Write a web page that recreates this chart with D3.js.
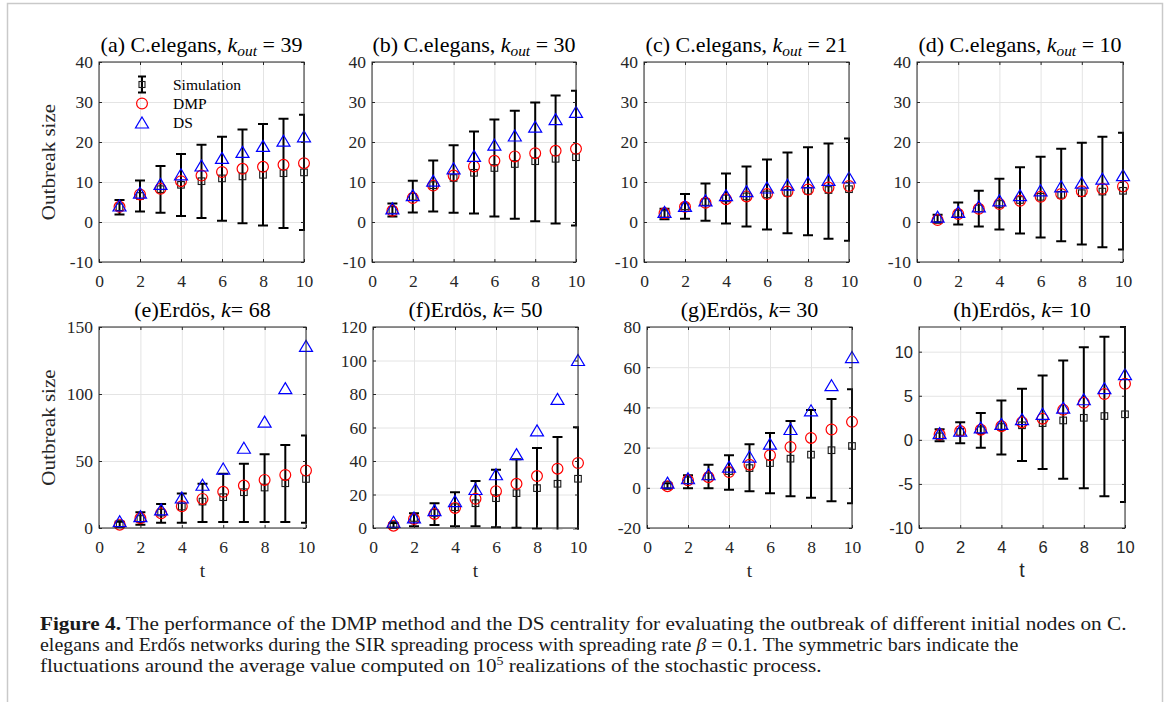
<!DOCTYPE html>
<html><head><meta charset="utf-8">
<script src="https://cdn.jsdelivr.net/npm/d3@7"></script>
<style>body{margin:0;background:#fff;} svg{display:block}</style>
</head><body>
<svg id="c" width="1170" height="702"></svg>
<script>
// ---------------- data ----------------
const tVals = [1,2,3,4,5,6,7,8,9,10];
const xTicks = [0,2,4,6,8,10];
const yTicksCel = [-10,0,10,20,30,40];
const yTicksE = [0,50,100,150];
const yTicksF = [0,20,40,60,80,100,120];
const yTicksG = [-20,0,20,40,60,80];
const yTicksH = [-10,-5,0,5,10];

// (a) C.elegans k_out = 39
const simA = [3.7, 6.5, 8.2, 9.3, 10.2, 10.9, 11.4, 11.8, 12.2, 12.4];
const loA  = [1.9, 2.6, 2.3, 1.5, 1.0, 0.3, -0.3, -0.9, -1.5, -2.0];
const hiA  = [5.5, 10.4, 14.0, 17.0, 19.3, 21.3, 23.1, 24.5, 25.8, 26.8];
const dmpA = [3.8, 6.9, 8.3, 10.2, 11.6, 12.5, 13.3, 13.8, 14.3, 14.7];
const dsA  = [4.0, 7.2, 9.4, 11.8, 14.0, 15.9, 17.4, 18.9, 20.2, 21.3];
// (b) C.elegans k_out = 30
const simB = [3.0, 6.3, 9.2, 11.0, 12.3, 13.5, 14.5, 15.2, 15.8, 16.2];
const loB  = [1.4, 2.4, 2.6, 2.3, 2.1, 1.4, 0.8, 0.2, -0.4, -0.9];
const hiB  = [4.6, 10.3, 15.4, 19.2, 22.6, 25.6, 27.8, 29.9, 31.6, 32.8];
const dmpB = [2.8, 6.0, 9.1, 11.6, 13.9, 15.3, 16.4, 17.2, 17.8, 18.3];
const dsB  = [3.3, 6.6, 10.2, 13.3, 16.4, 19.2, 21.5, 23.7, 25.6, 27.4];
// (c) C.elegans k_out = 21
const simC = [2.0, 3.9, 5.0, 5.9, 6.4, 6.9, 7.3, 7.8, 8.0, 8.2];
const loC  = [0.7, 0.8, 0.3, -0.4, -1.1, -1.9, -2.8, -3.3, -4.2, -4.7];
const hiC  = [3.3, 7.0, 9.6, 12.1, 13.9, 15.6, 17.4, 18.7, 19.6, 20.9];
const dmpC = [2.2, 3.8, 4.8, 5.7, 6.4, 7.0, 7.6, 8.1, 8.6, 9.0];
const dsC  = [2.4, 3.9, 5.3, 6.6, 7.6, 8.5, 9.2, 9.8, 10.4, 11.0];
// (d) C.elegans k_out = 10
const simD = [0.9, 2.1, 3.4, 4.5, 5.5, 6.3, 6.8, 7.2, 7.6, 7.8];
const loD  = [-0.2, -0.6, -1.1, -1.9, -2.9, -3.9, -4.8, -5.6, -6.3, -6.9];
const hiD  = [1.8, 4.9, 7.8, 10.8, 13.7, 16.3, 18.3, 19.8, 21.3, 22.3];
const dmpD = [0.5, 2.0, 3.3, 4.5, 5.3, 6.3, 7.0, 7.7, 8.3, 8.9];
const dsD  = [1.2, 2.4, 3.8, 5.3, 6.6, 7.8, 8.8, 9.7, 10.7, 11.6];
// (e) Erdos k = 68
const simE = [3.0, 6.7, 11.5, 16.0, 19.7, 23.0, 26.7, 30.2, 33.4, 36.6];
const loE  = [0.8, 2.5, 4.0, 4.0, 4.5, 4.5, 4.5, 4.5, 4.5, 4.0];
const hiE  = [4.7, 11.7, 18.0, 25.7, 33.0, 40.5, 48.0, 55.0, 62.0, 69.0];
const dmpE = [2.5, 7.2, 11.0, 16.2, 21.7, 27.0, 31.7, 35.9, 39.6, 42.9];
const dsE  = [4.7, 8.5, 13.5, 22.4, 31.9, 44.0, 59.5, 79.0, 104.0, 135.5];
// (f) Erdos k = 50
const simF = [1.8, 6.0, 9.0, 12.4, 14.8, 17.8, 20.8, 23.8, 26.4, 29.4];
const loF  = [0.1, 1.0, 1.8, 1.0, 1.0, 0.4, 0.1, -0.4, -1.6, -1.4];
const hiF  = [3.0, 8.8, 14.8, 21.4, 28.0, 34.8, 41.0, 47.8, 54.4, 60.2];
const dmpF = [1.4, 5.4, 8.4, 12.0, 17.4, 22.0, 26.4, 31.0, 35.4, 38.8];
const dsF  = [3.4, 6.0, 10.4, 15.8, 23.0, 31.8, 43.8, 58.0, 76.8, 100.0];
// (g) Erdos k = 30
const simG = [1.5, 3.7, 5.7, 8.3, 9.8, 12.3, 14.5, 16.5, 18.7, 20.8];
const loG  = [-0.5, -0.2, -0.2, -1.0, -1.7, -2.7, -4.2, -5.0, -6.7, -7.7];
const hiG  = [2.3, 6.2, 11.5, 16.2, 21.7, 27.3, 33.2, 38.7, 44.2, 49.0];
const dmpG = [0.8, 3.7, 5.3, 7.8, 11.5, 16.2, 20.3, 24.8, 29.0, 32.8];
const dsG  = [2.3, 4.5, 6.5, 10.3, 15.3, 21.7, 29.0, 38.3, 50.8, 64.8];
// (h) Erdos k = 10
const simH = [0.4, 0.9, 1.1, 1.45, 1.65, 1.9, 2.2, 2.5, 2.7, 2.9];
const loH  = [-0.15, -0.4, -0.9, -1.65, -2.4, -3.3, -4.4, -5.5, -6.4, -7.05];
const hiH  = [1.2, 2.0, 3.05, 4.45, 5.8, 7.3, 9.0, 10.5, 11.7, 12.8];
const dmpH = [0.6, 1.0, 1.15, 1.55, 2.0, 2.4, 3.4, 4.2, 5.2, 6.35];
const dsH  = [0.7, 1.0, 1.35, 1.75, 2.3, 2.9, 3.6, 4.55, 5.8, 7.4];

const legendLabels = ["Simulation", "DMP", "DS"];

// ---------------- layout ----------------
const SERIF = "'Liberation Serif','Times New Roman',serif";
const SANS = "'Liberation Sans',Arial,Helvetica,sans-serif";
const TXT = "#262626";
const fmt = d => String(d);   // plain hyphen minus, like the original

const panels = [
  {letter:"(a) C.elegans, ", kind:"cel", val:"39", L:99,  R:304,  T:62,  B:262, ydom:[-10,40], yt:yTicksCel, sim:simA, lo:loA, hi:hiA, dmp:dmpA, ds:dsA, ylab:true, legend:true},
  {letter:"(b) C.elegans, ", kind:"cel", val:"30", L:372, R:576,  T:62,  B:262, ydom:[-10,40], yt:yTicksCel, sim:simB, lo:loB, hi:hiB, dmp:dmpB, ds:dsB},
  {letter:"(c) C.elegans, ", kind:"cel", val:"21", L:644, R:849,  T:62,  B:262, ydom:[-10,40], yt:yTicksCel, sim:simC, lo:loC, hi:hiC, dmp:dmpC, ds:dsC},
  {letter:"(d) C.elegans, ", kind:"cel", val:"10", L:917, R:1123, T:62,  B:262, ydom:[-10,40], yt:yTicksCel, sim:simD, lo:loD, hi:hiD, dmp:dmpD, ds:dsD},
  {letter:"(e)Erdös, ", kind:"er", val:"68", L:99,  R:306,  T:327, B:528, ydom:[0,150], yt:yTicksE, sim:simE, lo:loE, hi:hiE, dmp:dmpE, ds:dsE, ylab:true, xlab:true},
  {letter:"(f)Erdös, ", kind:"er", val:"50", L:373, R:578,  T:327, B:528, ydom:[0,120], yt:yTicksF, sim:simF, lo:loF, hi:hiF, dmp:dmpF, ds:dsF, xlab:true},
  {letter:"(g)Erdös, ", kind:"er", val:"30", L:647, R:852,  T:327, B:528, ydom:[-20,80], yt:yTicksG, sim:simG, lo:loG, hi:hiG, dmp:dmpG, ds:dsG, xlab:true},
  {letter:"(h)Erdös, ", kind:"er", val:"10", L:919, R:1125, T:327, B:528, ydom:[-10,12.8], yt:yTicksH, sim:simH, lo:loH, hi:hiH, dmp:dmpH, ds:dsH, xlab:true, sans:true}
];

const svg = d3.select("#c");
svg.append("rect").attr("width",1170).attr("height",702).attr("fill","#fff");
// page frame
svg.append("path").attr("d","M7.5,702 V3.5 H1162.5 V702").attr("fill","none").attr("stroke","#c9c9c9").attr("stroke-width",1.5);

const defs = svg.append("defs");
const triPath = "M0,-6 L6.5,5 L-6.5,5 Z";

panels.forEach((p, idx) => {
  const g = svg.append("g");
  const x = d3.scaleLinear().domain([0,10]).range([p.L, p.R]);
  const y = d3.scaleLinear().domain(p.ydom).range([p.B, p.T]);
  const tickFont = p.sans ? SANS : SERIF;
  const W = p.R - p.L, H = p.B - p.T;

  // grid
  const gx = g.append("g").attr("transform",`translate(0,${p.B})`)
    .call(d3.axisBottom(x).tickValues(xTicks).tickSize(-H).tickFormat(""));
  const gy = g.append("g").attr("transform",`translate(${p.L},0)`)
    .call(d3.axisLeft(y).tickValues(p.yt).tickSize(-W).tickFormat(""));
  [gx, gy].forEach(a => {
    a.select(".domain").remove();
    a.selectAll("line").attr("stroke","#e4e4e4").attr("stroke-width",1);
  });

  // clip
  const cid = "clip" + idx;
  defs.append("clipPath").attr("id",cid).append("rect")
    .attr("x",p.L-1).attr("y",p.T-1.5).attr("width",W+2).attr("height",H+3);
  const dg = g.append("g").attr("clip-path",`url(#${cid})`);

  // error bars
  tVals.forEach((t,i) => {
    const cx = x(t), y1 = y(p.lo[i]), y2 = y(p.hi[i]);
    dg.append("line").attr("x1",cx).attr("x2",cx).attr("y1",y1).attr("y2",y2)
      .attr("stroke","#000").attr("stroke-width",2);
    [y1,y2].forEach(yy => dg.append("line").attr("x1",cx-5).attr("x2",cx+5).attr("y1",yy).attr("y2",yy)
      .attr("stroke","#000").attr("stroke-width",2));
  });
  // squares
  g.selectAll(".sq").data(tVals).join("rect")
    .attr("x",(t,i)=>x(t)-3.3).attr("y",(t,i)=>y(p.sim[i])-3.3)
    .attr("width",6.6).attr("height",6.6)
    .attr("fill","none").attr("stroke","#1a1a1a").attr("stroke-width",1.1);
  // DMP circles
  g.selectAll(".ci").data(tVals).join("circle")
    .attr("cx",t=>x(t)).attr("cy",(t,i)=>y(p.dmp[i])).attr("r",5.4)
    .attr("fill","none").attr("stroke","#ff0000").attr("stroke-width",1.2);
  // DS triangles
  g.selectAll(".tr").data(tVals).join("path")
    .attr("d",triPath).attr("transform",(t,i)=>`translate(${x(t)},${y(p.ds[i])})`)
    .attr("fill","none").attr("stroke","#0000ff").attr("stroke-width",1.2);

  // box
  g.append("rect").attr("x",p.L).attr("y",p.T).attr("width",W).attr("height",H)
    .attr("fill","none").attr("stroke",TXT).attr("stroke-width",1);

  // axes with inward ticks
  const ab = g.append("g").attr("transform",`translate(0,${p.B})`)
    .call(d3.axisBottom(x).tickValues(xTicks).tickSize(-3).tickPadding(0).tickFormat(fmt));
  ab.selectAll("text").attr("y", 25).attr("dy", null);
  const al = g.append("g").attr("transform",`translate(${p.L},0)`)
    .call(d3.axisLeft(y).tickValues(p.yt).tickSize(-3).tickPadding(6).tickFormat(fmt));
  const at = g.append("g").attr("transform",`translate(0,${p.T})`)
    .call(d3.axisTop(x).tickValues(xTicks).tickSize(-3).tickFormat(""));
  const ar = g.append("g").attr("transform",`translate(${p.R},0)`)
    .call(d3.axisRight(y).tickValues(p.yt).tickSize(-3).tickFormat(""));
  [ab,al,at,ar].forEach(a => {
    a.select(".domain").remove();
    a.selectAll("line").attr("stroke",TXT).attr("stroke-width",1);
    a.selectAll("text").attr("fill",TXT).style("font-family",tickFont).style("font-size", p.sans ? "16.5px" : "17.5px");
  });
  al.selectAll("text").attr("dy","0.34em");

  // title
  const cxT = (p.L+p.R)/2;
  const tt = g.append("text").attr("x",cxT).attr("y",p.T-10)
    .attr("text-anchor","middle").style("font-family",SERIF).style("font-size","20px").attr("fill","#000")
    .attr("transform",`translate(${cxT},0) scale(1.1,1) translate(${-cxT},0)`);
  tt.append("tspan").text(p.letter);
  tt.append("tspan").style("font-style","italic").text("k");
  if (p.kind === "cel") {
    tt.append("tspan").style("font-style","italic").style("font-size","14px").attr("dy",4).text("out");
    tt.append("tspan").attr("dy",-4).text(" = " + p.val);
  } else {
    tt.append("tspan").text("= " + p.val);
  }

  if (p.ylab) {
    g.append("text").attr("transform",`translate(48,${(p.T+p.B)/2}) rotate(-90) scale(1.08,1)`)
      .attr("text-anchor","middle").attr("dy","0.35em")
      .style("font-family",SERIF).style("font-size","19.5px").attr("fill",TXT).text("Outbreak size");
  }
  if (p.xlab) {
    g.append("text").attr("x",(p.L+p.R)/2).attr("y",p.B+49).attr("text-anchor","middle")
      .style("font-family", p.sans ? SANS : SERIF).style("font-size","19.5px").attr("fill",TXT).text("t");
  }

  if (p.legend) {
    const lx = 142, tx = 173, ly = [84.5, 103.5, 123];
    const lg = g.append("g");
    lg.append("line").attr("x1",lx).attr("x2",lx).attr("y1",ly[0]-8).attr("y2",ly[0]+8).attr("stroke","#000").attr("stroke-width",2);
    [ly[0]-8, ly[0]+8].forEach(yy => lg.append("line").attr("x1",lx-4).attr("x2",lx+4).attr("y1",yy).attr("y2",yy).attr("stroke","#000").attr("stroke-width",2));
    lg.append("rect").attr("x",lx-3).attr("y",ly[0]-3).attr("width",6).attr("height",6).attr("fill","none").attr("stroke","#1a1a1a").attr("stroke-width",1.1);
    lg.append("circle").attr("cx",lx).attr("cy",ly[1]).attr("r",5.4).attr("fill","none").attr("stroke","#ff0000").attr("stroke-width",1.2);
    lg.append("path").attr("d",triPath).attr("transform",`translate(${lx},${ly[2]})`).attr("fill","none").attr("stroke","#0000ff").attr("stroke-width",1.2);
    legendLabels.forEach((s,i) => lg.append("text").attr("x",tx).attr("y",ly[i]).attr("dy","0.35em")
      .style("font-family",SERIF).style("font-size","15.5px").attr("fill","#000").text(s));
  }
});

// ---------------- caption ----------------
const capLines = [
  {y:630, end:1127, parts:[{t:"Figure 4.", b:true},{t:" The performance of the DMP method and the DS centrality for evaluating the outbreak of different initial nodes on C."}]},
  {y:651, end:1019, parts:[{t:"elegans and Erdős networks during the SIR spreading process with spreading rate "},{t:"β", i:true},{t:" = 0.1. The symmetric bars indicate the"}]},
  {y:672, end:822, parts:[{t:"fluctuations around the average value computed on 10"},{t:"5", sup:true},{t:" realizations of the stochastic process."}]}
];
capLines.forEach(line => {
  const txt = svg.append("text").attr("x",40).attr("y",line.y)
    .style("font-family",SERIF).style("font-size","18px").attr("fill","#1a1a1a");
  let afterSup = false;
  line.parts.forEach(pt => {
    const s = txt.append("tspan").text(pt.t);
    if (pt.b) s.style("font-weight","bold");
    if (pt.i) s.style("font-style","italic");
    if (afterSup) { s.attr("dy",7); afterSup = false; }
    if (pt.sup) { s.style("font-size","12px").attr("dy",-7); afterSup = true; }
  });
  const w = txt.node().getComputedTextLength();
  const sx = (line.end - 40) / w;
  txt.attr("transform",`translate(40,0) scale(${sx},1) translate(-40,0)`);
});
</script>
</body></html>
